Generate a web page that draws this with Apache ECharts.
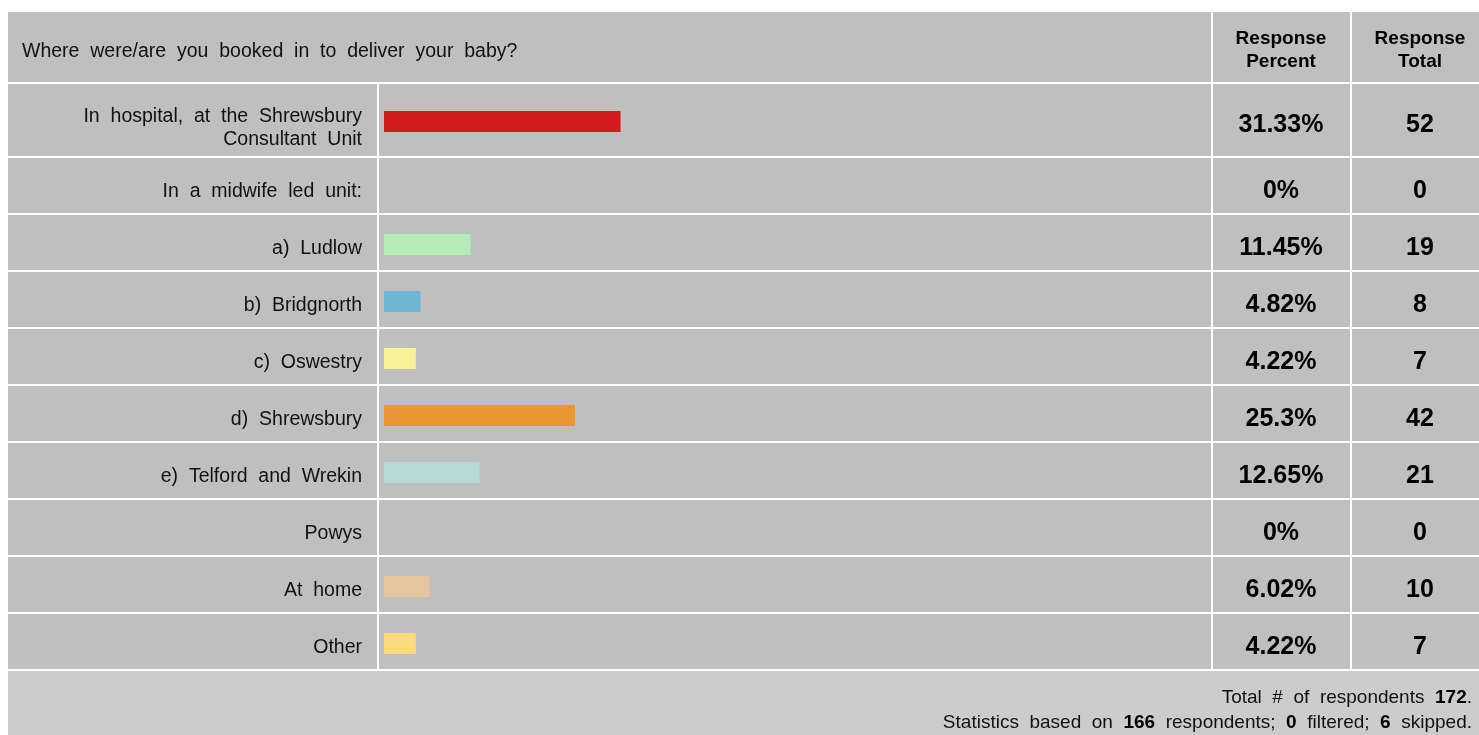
<!DOCTYPE html>
<html lang="en">
<head>
  <meta charset="UTF-8">
  <title>Where were/are you booked in to deliver your baby?</title>
  <style>
    html, body { margin: 0; padding: 0; background: #fff; }
  </style>
</head>
<body>
<div id="main" style="width:1479px; height:735px;"></div>

<script src="https://cdn.jsdelivr.net/npm/echarts@6/dist/echarts.min.js"></script>

<script>
  var categories = [
    'In hospital, at the Shrewsbury\nConsultant Unit',
    'In a midwife led unit:',
    'a) Ludlow',
    'b) Bridgnorth',
    'c) Oswestry',
    'd) Shrewsbury',
    'e) Telford and Wrekin',
    'Powys',
    'At home',
    'Other'
  ];
  var percents = [31.33, 0, 11.45, 4.82, 4.22, 25.3, 12.65, 0, 6.02, 4.22];
  var percentLabels = ['31.33%', '0%', '11.45%', '4.82%', '4.22%', '25.3%', '12.65%', '0%', '6.02%', '4.22%'];
  var totals = [52, 0, 19, 8, 7, 42, 21, 0, 10, 7];
  var barColors = ['#d21c1c', '#9e9e9e', '#b5ecb5', '#6cb6d4', '#f7f29a', '#e99634', '#b6dad7', '#9e9e9e', '#e6c59c', '#fedb7a'];

  var question = 'Where were/are you booked in to deliver your baby?';
  var respondents = 172, basedOn = 166, filtered = 0, skipped = 6;

  // the original page renders words with wide gaps
  function spaced(s) { return s.replace(/ /g, '  '); }

  // table layout
  var FONT = '"Liberation Sans", Arial, sans-serif';
  var L = 8, R = 1479, T = 12;
  var headerBottom = 82;
  var firstRowH = 72, rowH = 55, line = 2;
  var colLines = [377, 1211, 1350];
  var pctCenter = 1281, totCenter = 1420;
  var barLeft = 384, barWidthPx = 755;

  // row separators (y of each white line)
  var rowLines = [headerBottom];
  var y = headerBottom + line + firstRowH;
  rowLines.push(y);
  for (var i = 1; i < categories.length; i++) {
    y += line + rowH;
    rowLines.push(y);
  }
  var tableBottom = rowLines[rowLines.length - 1];

  var graphics = [
    { type: 'rect', z: -10, silent: true, shape: { x: L, y: T, width: R - L, height: tableBottom - T }, style: { fill: '#bfbfbf' } },
    { type: 'rect', z: -10, silent: true, shape: { x: L, y: tableBottom + line, width: R - L, height: 735 - tableBottom - line }, style: { fill: '#cccccc' } }
  ];
  rowLines.forEach(function (ly) {
    graphics.push({ type: 'rect', z: -9, silent: true, shape: { x: L, y: ly, width: R - L, height: line }, style: { fill: '#ffffff' } });
  });
  colLines.forEach(function (lx, k) {
    var top = k === 0 ? headerBottom : T;
    graphics.push({ type: 'rect', z: -9, silent: true, shape: { x: lx, y: top, width: line, height: tableBottom - top }, style: { fill: '#ffffff' } });
  });

  graphics.push(
    { type: 'text', z: 5, style: { text: spaced(question), x: 22, y: 52, verticalAlign: 'middle', font: '19.5px ' + FONT, fill: '#111' } },
    { type: 'text', z: 5, style: { text: 'Response\nPercent', x: pctCenter, y: 50, align: 'center', verticalAlign: 'middle', font: 'bold 19px ' + FONT, lineHeight: 23, fill: '#000' } },
    { type: 'text', z: 5, style: { text: 'Response\nTotal', x: totCenter, y: 50, align: 'center', verticalAlign: 'middle', font: 'bold 19px ' + FONT, lineHeight: 23, fill: '#000' } },
    {
      type: 'text', z: 5,
      style: {
        text: spaced('Total # of respondents ') + '{b|' + respondents + '}.\n' +
          spaced('Statistics based on ') + '{b|' + basedOn + '}' + spaced(' respondents; ') +
          '{b|' + filtered + '}' + spaced(' filtered; ') + '{b|' + skipped + '}' + spaced(' skipped.'),
        x: 1472, y: 710, align: 'right', verticalAlign: 'middle',
        font: '19px ' + FONT, lineHeight: 25, fill: '#111',
        rich: { b: { font: 'bold 19px ' + FONT, fill: '#000' } }
      }
    }
  );

  function barData(from, to) {
    var out = [];
    for (var k = from; k < to; k++) {
      out.push({ value: percents[k], itemStyle: { color: barColors[k] } });
    }
    return out;
  }

  // rich styles: a top padding nudges the text a little below the row centre
  var labelRich = {
    a: { fontFamily: FONT, fontSize: 19.5, color: '#111', lineHeight: 23.5, padding: [8, 0, 0, 0] },
    f: { fontFamily: FONT, fontSize: 19.5, color: '#111', lineHeight: 23.5, padding: [14, 0, 0, 0] },
    b: { fontFamily: FONT, fontSize: 19.5, color: '#111', lineHeight: 23.5, padding: [13, 0, 0, 0] }
  };
  var valueRich = {
    v: { fontFamily: FONT, fontSize: 25, fontWeight: 'bold', color: '#000', lineHeight: 28, padding: [8, 0, 0, 0] }
  };

  function labelText(v) {
    var parts = v.split('\n');
    if (parts.length === 1) return '{a|' + spaced(v) + '}';
    return parts.map(function (p, k) {
      return (k === 0 ? '{f|' : '{b|') + spaced(p) + '}';
    }).join('\n');
  }

  function axesFor(gridIndex, from, to) {
    var cats = categories.slice(from, to);
    return [
      {
        type: 'category', gridIndex: gridIndex, inverse: true, data: cats,
        axisLine: { show: false }, axisTick: { show: false },
        axisLabel: { margin: 22, rich: labelRich, formatter: labelText }
      },
      {
        type: 'category', gridIndex: gridIndex, inverse: true, data: cats, position: 'right',
        axisLine: { show: false }, axisTick: { show: false },
        axisLabel: {
          margin: pctCenter - (barLeft + barWidthPx), align: 'center', rich: valueRich,
          formatter: function (v, idx) { return '{v|' + percentLabels[from + idx] + '}'; }
        }
      },
      {
        type: 'category', gridIndex: gridIndex, inverse: true, data: cats, position: 'right',
        axisLine: { show: false }, axisTick: { show: false },
        axisLabel: {
          margin: totCenter - (barLeft + barWidthPx), align: 'center', rich: valueRich,
          formatter: function (v, idx) { return '{v|' + totals[from + idx] + '}'; }
        }
      }
    ];
  }

  var chart = echarts.init(document.getElementById('main'));

  var option = {
    animation: false,
    backgroundColor: '#ffffff',
    graphic: graphics,
    grid: [
      { left: barLeft, width: barWidthPx, top: headerBottom + line + 1.5, height: firstRowH },
      { left: barLeft, width: barWidthPx, top: rowLines[1] + line + 1, height: (rowH + line) * (categories.length - 1) }
    ],
    xAxis: [
      { type: 'value', gridIndex: 0, min: 0, max: 100, show: false },
      { type: 'value', gridIndex: 1, min: 0, max: 100, show: false }
    ],
    yAxis: axesFor(0, 0, 1).concat(axesFor(1, 1, categories.length)),
    series: [
      { type: 'bar', xAxisIndex: 0, yAxisIndex: 0, barWidth: 21, data: barData(0, 1), silent: true },
      { type: 'bar', xAxisIndex: 1, yAxisIndex: 3, barWidth: 21, data: barData(1, categories.length), silent: true }
    ]
  };

  chart.setOption(option);
</script>
</body>
</html>
